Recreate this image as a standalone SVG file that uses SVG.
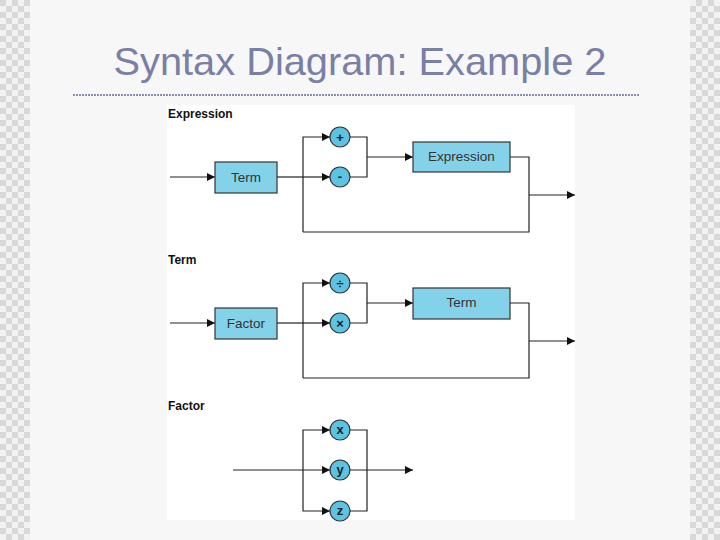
<svg xmlns="http://www.w3.org/2000/svg" width="720" height="540" viewBox="0 0 720 540">
<defs>
<pattern id="chk" width="12" height="12" patternUnits="userSpaceOnUse">
<rect width="12" height="12" fill="#f2f2f2"/>
<rect width="6" height="6" fill="#d8d8d8"/>
<rect x="6" y="6" width="6" height="6" fill="#d8d8d8"/>
</pattern>
<marker id="ah" viewBox="0 0 10 10" refX="10" refY="5" markerWidth="8" markerHeight="8" markerUnits="userSpaceOnUse" orient="auto">
<path d="M0,0 L10,5 L0,10 Z" fill="#111"/>
</marker>
<style>
.ln{fill:none;stroke:#222;stroke-width:1.2}
.ar{marker-end:url(#ah)}
.box{fill:#84d2ea;stroke:#333;stroke-width:1.2}
.cir{fill:#5cc3e2;stroke:#333;stroke-width:1.2}
.bt{font-family:"Liberation Sans",Arial,sans-serif;font-size:13.5px;fill:#333;text-anchor:middle}
.ct{font-family:"Liberation Sans",Arial,sans-serif;font-size:13px;font-weight:bold;fill:#222;text-anchor:middle}
.hd{font-family:"Liberation Sans",Arial,sans-serif;font-size:12px;font-weight:bold;fill:#111}
</style>
</defs>
<rect width="720" height="540" fill="#f7f7f7"/>
<rect x="0" y="0" width="30" height="540" fill="url(#chk)"/>
<rect x="690" y="0" width="30" height="540" fill="url(#chk)"/>
<text x="360" y="75" font-family="'Liberation Sans',Arial,sans-serif" font-size="39" fill="#7a7fa6" text-anchor="middle" textLength="493" lengthAdjust="spacingAndGlyphs">Syntax Diagram: Example 2</text>
<line x1="73" y1="95" x2="640" y2="95" stroke="#8a8fb2" stroke-width="2" stroke-dasharray="2,1"/>
<rect x="167" y="105" width="408" height="415" fill="#ffffff"/>

<text class="hd" x="168" y="118">Expression</text>
<text class="hd" x="168" y="264">Term</text>
<text class="hd" x="168" y="410">Factor</text>

<g id="connectors">
<path class="ln ar" d="M170,177 H215"/>
<path class="ln" d="M277,177 H303"/>
<path class="ln ar" d="M303,177 H330"/>
<path class="ln ar" d="M303,232 V137 H330"/>
<path class="ln" d="M303,232 H529 V157 H510"/>
<path class="ln" d="M350,137 H367 V177 H350"/>
<path class="ln ar" d="M367,157 H413"/>
<path class="ln ar" d="M529,195 H575"/>
<path class="ln ar" d="M170,323 H215"/>
<path class="ln" d="M277,323 H303"/>
<path class="ln ar" d="M303,323 H330"/>
<path class="ln ar" d="M303,378 V283 H330"/>
<path class="ln" d="M303,378 H529 V303 H510"/>
<path class="ln" d="M350,283 H367 V323 H350"/>
<path class="ln ar" d="M367,303 H413"/>
<path class="ln ar" d="M529,341 H575"/>
<path class="ln ar" d="M233,470 H330"/>
<path class="ln ar" d="M303,470 V430 H330"/>
<path class="ln ar" d="M303,470 V511 H330"/>
<path class="ln" d="M350,430 H367 V511 H350"/>
<path class="ln ar" d="M350,470 H413"/>
</g>

<g id="term1"><rect class="box" x="215" y="162" width="62" height="31"/><text class="bt" x="246" y="182">Term</text></g>
<g id="plus"><circle class="cir" cx="340" cy="137" r="10"/><text class="ct" x="340" y="142">+</text></g>
<g id="minus"><circle class="cir" cx="340" cy="177" r="10"/><text class="ct" x="340" y="181">-</text></g>
<g id="expr"><rect class="box" x="413" y="142" width="97" height="30"/><text class="bt" x="461.5" y="161">Expression</text></g>

<g id="factor1"><rect class="box" x="215" y="308" width="62" height="31"/><text class="bt" x="246" y="328">Factor</text></g>
<g id="div"><circle class="cir" cx="340" cy="283" r="10"/><text class="ct" x="340" y="288">÷</text></g>
<g id="mul"><circle class="cir" cx="340" cy="323" r="10"/><text class="ct" x="340" y="328">×</text></g>
<g id="term2"><rect class="box" x="413" y="288" width="97" height="31"/><text class="bt" x="461.5" y="307">Term</text></g>

<g id="vx"><circle class="cir" cx="340" cy="430" r="10"/><text class="ct" x="340" y="434">x</text></g>
<g id="vy"><circle class="cir" cx="340" cy="470" r="10"/><text class="ct" x="340" y="474">y</text></g>
<g id="vz"><circle class="cir" cx="340" cy="511" r="10"/><text class="ct" x="340" y="515">z</text></g>
</svg>
